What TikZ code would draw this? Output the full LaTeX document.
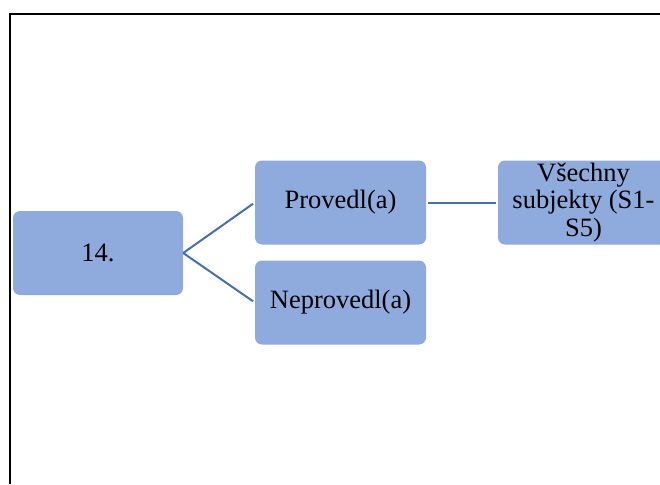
\documentclass[tikz,border=0pt]{standalone}
\usepackage{fontspec}
\setmainfont{Liberation Serif}
\definecolor{boxfill}{RGB}{143,170,220}
\definecolor{linkcol}{RGB}{70,110,180}
\tikzset{
  box/.style={draw=none, fill=boxfill, rounded corners=7pt, minimum width=171pt, minimum height=84pt,
    align=center, inner sep=0pt, font=\fontsize{26.5}{27.5}\selectfont},
  link/.style={draw=linkcol, line width=2pt},
}
\begin{document}
\begin{tikzpicture}[x=1pt,y=-1pt]
\useasboundingbox (0,0) rectangle (660,484);
\fill[white] (0,0) rectangle (660,484);
\begin{scope}
\clip (0,0) rectangle (660,484);
\node[box, minimum width=170pt] (n14) at (98,253) {14.};
\node[box] (prov) at (340.5,202.5) {Provedl(a)};
\node[box] (neprov) at (340.5,302.5) {Neprovedl(a)};
\node[box] (vse) at (583.5,202.5) {Všechny\\subjekty (S1-\\S5)};
\draw[link, shorten >=2pt] (n14.east) -- (prov.west);
\draw[link, shorten >=2pt] (n14.east) -- (neprov.west);
\draw[link, shorten >=2pt, shorten <=2pt] (prov.east) -- (vse.west);
\end{scope}
\coordinate (tl) at (10,14);
\coordinate (tr) at (660,14);
\coordinate (bl) at (10,484);
\draw[line width=2pt] (tr) -- (tl) -- (bl);
\end{tikzpicture}
\end{document}
